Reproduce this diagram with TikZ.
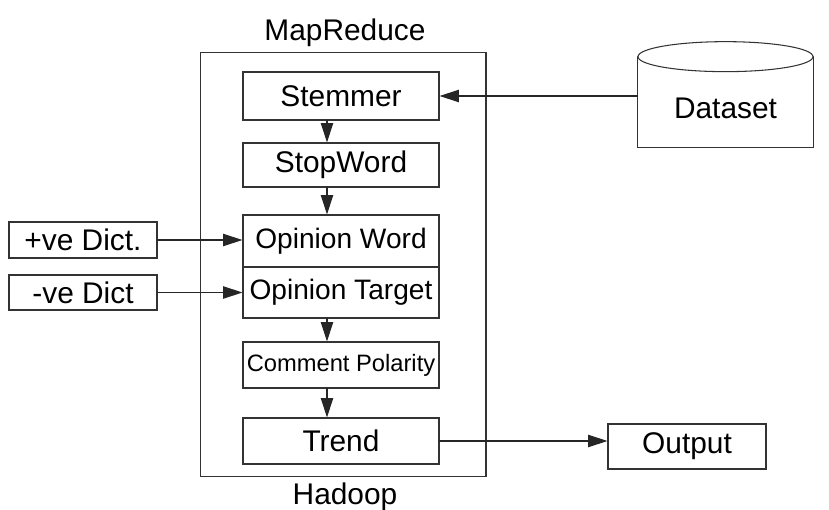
\documentclass[tikz,border=0pt]{standalone}
\usepackage{fontspec}
\setmainfont{Liberation Sans}
\usepackage{tikz}
\usetikzlibrary{arrows.meta}
\usepackage{xcolor}

\begin{document}
\begin{tikzpicture}[x=0.02cm,y=-0.02cm,>={Triangle[length=11pt,width=7pt]},
  font=\fontsize{17}{19}\selectfont,line cap=round,
  stage/.style={draw=black!80,line width=0.6pt,minimum width=3.92cm,inner sep=0pt},
  dict/.style={draw=black!80,line width=0.6pt,minimum width=2.96cm,inner sep=0pt},
  link/.style={->,black!85,line width=0.6pt}]
\useasboundingbox (0,0) rectangle (829,510);
% hadoop frame with the map reduce stages
\node[draw=black!80,line width=0.6pt,minimum width=5.72cm,minimum height=8.5cm] (hadoop) at (343,264.5) {};
\node (mrtitle) at (345,33) {MapReduce};
\node (hdtitle) at (345,497) {Hadoop};
\node[stage,minimum height=0.96cm] (stemmer) at (341,96) {Stemmer};
\node[stage,minimum height=0.88cm] (stopword) at (341,165) {StopWord};
\node[stage,minimum height=1.04cm,font=\fontsize{16}{18}\selectfont] (opword) at (341,241) {Opinion Word};
\node[stage,minimum height=1.02cm,font=\fontsize{16}{18}\selectfont] (optarget) at (341,292.5) {Opinion Target};
\node[stage,minimum height=0.92cm,font=\fontsize{13.5}{15}\selectfont] (polarity) at (341,365) {Comment Polarity};
\node[stage,minimum height=0.92cm] (trend) at (341,441) {Trend};
% inputs and output
\node[dict,minimum height=0.72cm] (posdict) at (83,240) {+ve Dict.};
\node[dict,minimum height=0.70cm] (negdict) at (83,292.5) {-ve Dict};
\node[dict,minimum width=3.16cm,minimum height=0.9cm] (output) at (687,446.5) {Output};
\node[minimum width=3.5cm,minimum height=1.56cm,inner sep=0pt] (dataset) at (725.5,108) {Dataset};
\draw[black!80,line width=0.6pt] ([yshift=0.24cm]dataset.north west) -- (dataset.south west) -- (dataset.south east) -- ([yshift=0.24cm]dataset.north east);
\draw[black!80,line width=0.6pt] ([yshift=0.24cm]dataset.north) ellipse [x radius=1.75cm,y radius=0.3cm];
% connectors
\draw[link] (dataset.west |- stemmer.east) -- (stemmer.east);
\draw[link] (posdict.east) -- (posdict.east -| opword.west);
\draw[link] (negdict.east) -- (negdict.east -| optarget.west);
\draw[link] (trend.east) -- (trend.east -| output.west);
\foreach \a/\b in {stemmer/stopword,stopword/opword,optarget/polarity,polarity/trend}
  \draw[link] ([xshift=-0.28cm]\a.south) -- ([xshift=-0.28cm]\b.north);
\end{tikzpicture}
\end{document}
